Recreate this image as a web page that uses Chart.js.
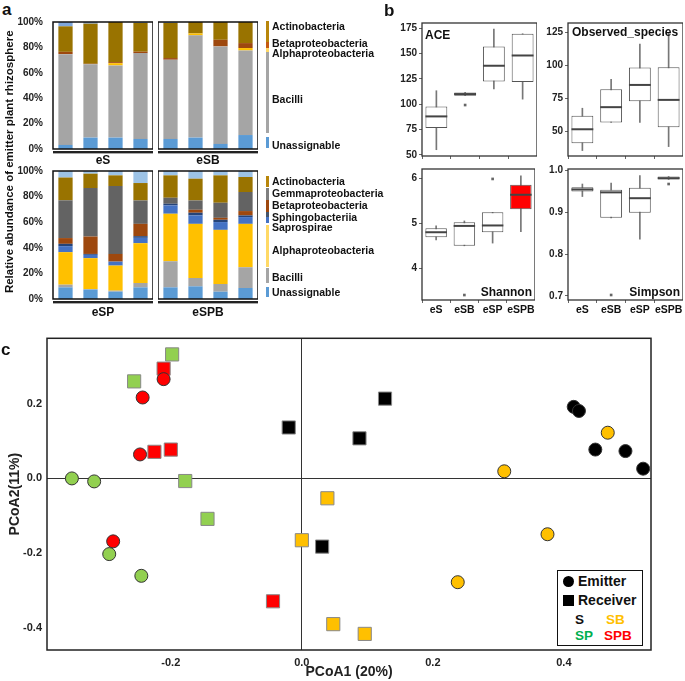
<!DOCTYPE html>
<html><head><meta charset="utf-8">
<script src="https://cdn.jsdelivr.net/npm/chart.js@4.4.0/dist/chart.umd.min.js"></script>
<style>
body{margin:0;background:#fff;width:685px;height:681px;position:relative;overflow:hidden;font-family:"Liberation Sans",Arial,sans-serif;font-weight:bold;color:#111}
canvas,.t,.b{position:absolute}
.t{white-space:nowrap}
</style></head><body>
<script>
// ---- panel a: relative abundance (%), one row per class, one column per replicate
const reps = ['1', '2', '3', '4'];
const topClasses = ['Unassignable', 'Bacilli', 'Alphaproteobacteria', 'Betaproteobacteria', 'Actinobacteria', 'Others'];
const topColors = ['#5B9BD5', '#A5A5A5', '#FFC000', '#9E480E', '#997300', '#7FA7DB'];
const eS = [
  [3.2, 9.0, 9.0, 7.9],
  [71.5, 57.8, 56.8, 67.6],
  [0, 0, 1.8, 0],
  [1.8, 0.3, 0.8, 1.1],
  [20.1, 31.6, 31.6, 22.6],
  [3.4, 1.3, 0, 0.8]
];
const eSB = [
  [7.9, 9.0, 4.0, 11.0],
  [62.4, 80.5, 76.8, 66.6],
  [0, 1.5, 0, 1.9],
  [1.3, 0, 5.2, 3.9],
  [27.6, 9.0, 14.0, 16.6],
  [0.8, 0, 0, 0]
];
const botClasses = ['Unassignable', 'Bacilli', 'Alphaproteobacteria', 'Saprospirae', 'Sphingobacteriia', 'Betaproteobacteria', 'Gemmaproteobacteria', 'Actinobacteria', 'Others'];
const botColors = ['#5B9BD5', '#A5A5A5', '#FFC000', '#4472C4', '#264478', '#9E480E', '#636363', '#997300', '#9DC3E6'];
const eSP = [
  [9.1, 7.3, 5.7, 9.1],
  [2.1, 0.5, 0.8, 3.4],
  [25.4, 24.1, 19.6, 31.1],
  [4.7, 2.6, 3.1, 4.2],
  [1.8, 0.7, 0, 1.3],
  [4.5, 13.6, 6.0, 9.6],
  [29.5, 37.9, 53.1, 18.3],
  [17.8, 11.2, 8.3, 13.6],
  [5.1, 2.1, 3.4, 9.4]
];
const eSPB = [
  [9.1, 9.9, 5.7, 8.6],
  [20.4, 6.5, 6.0, 16.2],
  [37.1, 42.3, 42.3, 33.9],
  [6.5, 6.6, 6.1, 5.3],
  [1.3, 2.1, 1.8, 1.3],
  [0, 2.3, 1.5, 3.4],
  [4.7, 7.3, 11.8, 14.9],
  [17.5, 17.0, 21.4, 11.7],
  [3.4, 6.0, 3.4, 4.7]
];

// ---- panel b: alpha diversity box plots
const groups = ['eS', 'eSB', 'eSP', 'eSPB'];
const ace = {min: [55.2, 108.4, 115, 105], q1: [76.6, 108.4, 122.5, 121.9], med: [88, 110, 137.9, 148], q3: [97.8, 111.6, 156.9, 169.4], max: [113.3, 111.6, 174, 169.4], out: [null, 99.2, null, null]};
const obs = {min: [35.6, 56.8, 56.8, 38.6], q1: [41.2, 56.8, 72.9, 53.3], med: [51.7, 68.4, 85.2, 73.9], q3: [62, 82, 98.3, 98.6], max: [67.6, 89.5, 116, 124], out: [null, null, null, null]};
const shannon = {min: [4.63, 4.5, 4.56, 4.81], q1: [4.69, 4.5, 4.8, 5.31], med: [4.8, 4.94, 4.95, 5.63], q3: [4.89, 5.02, 5.24, 5.85], max: [4.94, 5.05, 5.24, 6.05], out: [null, 3.41, 5.98, null]};
const simpson = {min: [0.938, 0.887, 0.836, 0.979], q1: [0.95, 0.887, 0.899, 0.979], med: [0.955, 0.948, 0.934, 0.982], q3: [0.96, 0.954, 0.959, 0.986], max: [0.968, 0.97, 0.988, 0.986], out: [null, 0.702, null, 0.968]};
const aceTicks = [50, 75, 100, 125, 150, 175];
const obsTicks = [50, 75, 100, 125];
const shannonTicks = [4, 5, 6];
const simpsonTicks = [0.7, 0.8, 0.9, 1.0];

// ---- panel c: PCoA coordinates [PCoA1, PCoA2]
const S_em = [[0.415, 0.191], [0.423, 0.18], [0.448, 0.077], [0.494, 0.073], [0.521, 0.026]];
const SB_em = [[0.467, 0.122], [0.309, 0.019], [0.375, -0.149], [0.238, -0.277]];
const SP_em = [[-0.351, 0], [-0.317, -0.008], [-0.294, -0.202], [-0.245, -0.26]];
const SPB_em = [[-0.211, 0.265], [-0.243, 0.216], [-0.247, 0.064], [-0.288, -0.168]];
const S_rec = [[-0.02, 0.136], [0.031, -0.182], [0.127, 0.213], [0.088, 0.107]];
const SB_rec = [[0.039, -0.053], [0, -0.165], [0.048, -0.389], [0.096, -0.415]];
const SP_rec = [[-0.198, 0.331], [-0.256, 0.259], [-0.178, -0.007], [-0.144, -0.108]];
const SPB_rec = [[-0.211, 0.293], [-0.225, 0.071], [-0.2, 0.077], [-0.044, -0.328]];
const pcoaXTicks = [-0.2, 0, 0.2, 0.4];
const pcoaYTicks = [-0.4, -0.2, 0, 0.2];

Chart.defaults.font.family = '"Liberation Sans", Arial, sans-serif';
Chart.defaults.font.weight = 'bold';
Chart.defaults.color = '#222';
Chart.defaults.animation = false;
Chart.defaults.plugins.legend.display = false;
Chart.defaults.plugins.tooltip.enabled = false;

const frame = {
  id: 'frame',
  afterDraw(ch, args, o) {
    const a = ch.chartArea, ctx = ch.ctx;
    ctx.save();
    ctx.strokeStyle = o.color || '#222';
    ctx.lineWidth = o.width || 1.5;
    ctx.strokeRect(a.left, a.top, a.right - a.left, a.bottom - a.top);
    ctx.restore();
  }
};

// fixed axis sizes so the plot areas land where the reference has them
const fixY = w => s => { s.width = w; s.paddingTop = 0; s.paddingBottom = 0; };
const fixX = h => s => { s.height = h; s.paddingLeft = 0; s.paddingRight = 0; };

function mk(x, y, w, h) {
  const c = document.createElement('canvas');
  c.width = w; c.height = h;
  c.style.left = x + 'px'; c.style.top = y + 'px';
  document.body.appendChild(c);
  return c;
}
function txt(s, x, y, size, align, color, extra) {
  const d = document.createElement('div');
  d.className = 't';
  d.textContent = s;
  d.style.fontSize = size + 'px';
  d.style.lineHeight = size + 'px';
  d.style.left = x + 'px';
  d.style.top = (y - size / 2) + 'px';
  if (color) d.style.color = color;
  let tr = align === 'center' ? 'translateX(-50%)' : align === 'right' ? 'translateX(-100%)' : '';
  if (extra) tr += ' ' + extra;
  d.style.transform = tr;
  document.body.appendChild(d);
  return d;
}
function box(x, y, w, h, bg) {
  const d = document.createElement('div');
  d.className = 'b';
  d.style.left = x + 'px'; d.style.top = y + 'px';
  d.style.width = w + 'px'; d.style.height = h + 'px';
  d.style.background = bg;
  document.body.appendChild(d);
  return d;
}

function stackChart(c, vals, classes, colors, showY) {
  new Chart(c, {
    type: 'bar',
    data: {labels: reps, datasets: classes.map((n, i) => ({label: n, data: vals[i], backgroundColor: colors[i], barPercentage: 0.57, categoryPercentage: 1}))},
    options: {
      responsive: false,
      layout: {padding: {top: 6, bottom: 6, left: 0, right: 0}},
      plugins: {frame: {color: '#111', width: 1.5}},
      scales: {
        x: {stacked: true, display: false},
        y: {stacked: true, min: 0, max: 100, display: showY,
          afterFit: showY ? fixY(38) : undefined,
          ticks: {stepSize: 20, callback: v => v + '%', font: {size: 10}, padding: 10},
          grid: {display: false, drawTicks: false}, border: {display: false}}
      }
    },
    plugins: [frame]
  });
}
stackChart(mk(15, 16, 138, 139), eS, topClasses, topColors, true);
stackChart(mk(158, 16, 100, 139), eSB, topClasses, topColors, false);
stackChart(mk(15, 165, 138, 140), eSP, botClasses, botColors, true);
stackChart(mk(158, 165, 100, 140), eSPB, botClasses, botColors, false);

// box plot from floating bars: whisker, box, median band, outlier dots
function boxChart(c, st, ticks, lo, hi, areaH, fills, showX, fmt) {
  const px = (hi - lo) / areaH;
  const band = v => v == null ? null : [v - px, v + px];
  new Chart(c, {
    type: 'bar',
    data: {labels: groups, datasets: [
      {data: st.min.map((v, i) => [v, st.max[i]]), backgroundColor: '#777', barThickness: 1, grouped: false, order: 3},
      {data: st.q1.map((v, i) => [v, st.q3[i]]), backgroundColor: fills, borderColor: '#555', borderWidth: 1, borderSkipped: false, barPercentage: 0.76, categoryPercentage: 1, grouped: false, order: 2},
      {data: st.med.map(band), backgroundColor: '#444', barPercentage: 0.76, categoryPercentage: 1, grouped: false, order: 1},
      {data: st.out.map(band), backgroundColor: '#666', barThickness: 2, grouped: false, order: 0}
    ]},
    options: {
      responsive: false,
      layout: {padding: {top: 6, bottom: 0, left: 0, right: 0}},
      plugins: {frame: {color: '#333', width: 1.3}},
      scales: {
        x: {afterFit: fixX(showX ? 18 : 6),
          ticks: {display: showX, font: {size: 10.5}, color: '#111', padding: 1, maxRotation: 0, minRotation: 0, autoSkip: false},
          grid: {drawOnChartArea: false, tickLength: 3, color: '#666'}, border: {display: false}},
        y: {min: lo, max: hi,
          afterBuildTicks: s => { s.ticks = ticks.map(v => ({value: v})); },
          afterFit: fixY(32),
          ticks: {font: {size: 10}, padding: 2, callback: fmt || (v => v)},
          grid: {drawOnChartArea: false, tickLength: 3, color: '#666'}, border: {display: false}}
      }
    },
    plugins: [frame]
  });
}
const white = ['#fff', '#fff', '#fff', '#fff'];
boxChart(mk(390, 17, 147, 145), ace, aceTicks, 49, 180, 133, white, false);
boxChart(mk(536, 17, 147, 145), obs, obsTicks, 31.5, 132, 133, white, false);
boxChart(mk(390, 163, 145, 155), shannon, shannonTicks, 3.3, 6.2, 131, ['#fff', '#fff', '#fff', '#FF0000'], true, v => v.toFixed(0));
boxChart(mk(536, 163, 147, 155), simpson, simpsonTicks, 0.69, 1.004, 131, white, true, v => v.toFixed(1));

function pts(arr) { return arr.map(p => ({x: p[0], y: p[1]})); }
function circ(arr, col) { return {data: pts(arr), pointStyle: 'circle', pointRadius: 6.5, backgroundColor: col, borderColor: '#333', borderWidth: 1}; }
function sq(arr, col) { return {data: pts(arr), pointStyle: 'rect', pointRadius: 9.3, backgroundColor: col, borderColor: '#888', borderWidth: 1}; }
// points overflow the area by ~10px, so the layout keeps at least that much padding at the top
new Chart(mk(0, 328, 670, 353), {
  type: 'scatter',
  data: {datasets: [
    circ(S_em, '#000'), circ(SB_em, '#FFC000'), circ(SP_em, '#92D050'), circ(SPB_em, '#FF0000'),
    sq(S_rec, '#000'), sq(SB_rec, '#FFC000'), sq(SP_rec, '#92D050'), sq(SPB_rec, '#FF0000')
  ]},
  options: {
    responsive: false,
    layout: {padding: {top: 10, right: 19, left: 0, bottom: 0}},
    plugins: {frame: {color: '#222', width: 1.5}},
    scales: {
      x: {min: -0.389, max: 0.533,
        afterBuildTicks: s => { s.ticks = pcoaXTicks.map(v => ({value: v})); },
        afterFit: fixX(31),
        ticks: {font: {size: 11}, padding: 6, callback: v => v.toFixed(1)},
        grid: {color: c => (c.tick && c.tick.value === 0) ? '#333' : 'rgba(0,0,0,0)', drawTicks: false},
        border: {display: false},
        title: {display: true, text: 'PCoA1 (20%)', font: {size: 14}, color: '#222', padding: 0}},
      y: {min: -0.458, max: 0.374,
        afterBuildTicks: s => { s.ticks = pcoaYTicks.map(v => ({value: v})); },
        afterFit: fixY(47),
        ticks: {font: {size: 11}, padding: 5, callback: v => v.toFixed(1)},
        grid: {color: c => (c.tick && c.tick.value === 0) ? '#333' : 'rgba(0,0,0,0)', drawTicks: false},
        border: {display: false},
        title: {display: true, text: 'PCoA2(11%)', font: {size: 14}, color: '#222', padding: 7}}
    }
  },
  plugins: [frame]
});

// ---- texts and legends
txt('a', 2, 9, 17);
txt('b', 384, 10, 17);
txt('c', 1, 349, 17);
txt('Relative abundance of emitter plant rhizosphere', 10, 162, 11.5, 'center', null, 'rotate(-90deg)');
[[53, 151, 'eS', 160], [158, 151, 'eSB', 160], [53, 301, 'eSP', 312], [158, 301, 'eSPB', 312]].forEach(g => {
  box(g[0], g[1], 100, 2, '#222');
  box(g[0], g[1] + 2, 100, 1, '#aaa');
  txt(g[2], g[0] + 50, g[3], 12, 'center');
});
// top legend
[[20.7, 41.7, '#B8860B'], [41.7, 47.7, '#C55A11'], [47.7, 51.7, '#FFD966'], [51.7, 133.3, '#A5A5A5'], [136.7, 147.7, '#5B9BD5']]
  .forEach(s => box(266, s[0], 3, s[1] - s[0], s[2]));
[['Actinobacteria', 26.7], ['Betaproteobacteria', 43.3], ['Alphaproteobacteria', 53.3], ['Bacilli', 99.3], ['Unassignable', 145.7]]
  .forEach(s => txt(s[0], 272, s[1], 10.5));
// bottom legend
[[175.7, 186.7, '#B8860B'], [188.3, 200, '#7F7F7F'], [200, 211.7, '#9E480E'], [211.7, 216.7, '#44546A'], [216.7, 223.3, '#4472C4'], [225, 266.7, '#FFD966'], [268.3, 283.3, '#A5A5A5'], [286.7, 296.7, '#5B9BD5']]
  .forEach(s => box(266, s[0], 3, s[1] - s[0], s[2]));
[['Actinobacteria', 181.7], ['Gemmaproteobacteria', 193.3], ['Betaproteobacteria', 205], ['Sphingobacteriia', 217.2], ['Saprospirae', 227.2], ['Alphaproteobacteria', 250], ['Bacilli', 277.3], ['Unassignable', 292.7]]
  .forEach(s => txt(s[0], 272, s[1], 10.5));
// panel b inside labels
txt('ACE', 425, 35, 12);
txt('Observed_species', 572, 32, 12);
txt('Shannon', 532, 292, 12, 'right');
txt('Simpson', 680, 292, 12, 'right');
// panel c legend
const lg = box(557, 570, 84, 74, '#fff');
lg.style.border = '1.5px solid #111';
box(563, 575.5, 11, 11, '#000').style.borderRadius = '50%';
txt('Emitter', 578, 581, 14);
box(563, 595, 11, 11, '#000');
txt('Receiver', 578, 600, 14);
txt('S', 575, 620, 13.5);
txt('SB', 606, 620, 13.5, null, '#FFC000');
txt('SP', 575, 636, 13.5, null, '#00B050');
txt('SPB', 604, 636, 13.5, null, '#FF0000');
</script>
</body></html>
